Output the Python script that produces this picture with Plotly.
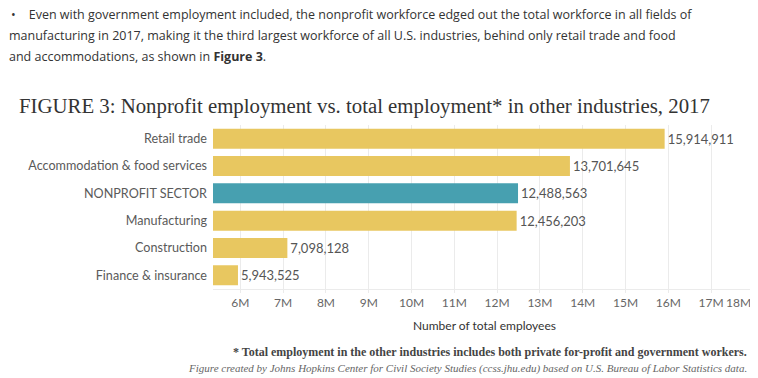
import plotly.graph_objects as go

categories = ["Retail trade", "Accommodation & food services", "NONPROFIT SECTOR",
              "Manufacturing", "Construction", "Finance & insurance"]
employees = [15914911, 13701645, 12488563, 12456203, 7098128, 5943525]
tick_values = [6e6, 7e6, 8e6, 9e6, 10e6, 11e6, 12e6, 13e6, 14e6, 15e6, 16e6, 17e6, 18e6]
tick_labels = ["6M", "7M", "8M", "9M", "10M", "11M", "12M", "13M", "14M", "15M", "16M", "17M", "18M"]

GOLD = "#E8C760"
TEAL = "#47A0B0"
colors = [TEAL if c == "NONPROFIT SECTOR" else GOLD for c in categories]

# the page body adds an 8px offset; all layout pixel positions below are compensated
OFF = 8
W, H = 758, 378
PL, PR, PT, PB = 213 - OFF, 756 - OFF, 125 - OFF, 289 - OFF  # plot area in figure px

# last tick label is nudged left so it stays inside the frame (as in the original)
shown_ticktext = tick_labels[:-1] + [tick_labels[-1] + "\u00a0" * 10]

fig = go.Figure(go.Bar(
    x=employees, y=categories, orientation="h",
    marker=dict(color=colors, line=dict(width=0)),
    text=[f"{v:,}" for v in employees], textposition="outside",
    textfont=dict(family="Lato", size=13, color="#555555"),
    cliponaxis=False, width=0.73,
))

fig.update_layout(
    width=W, height=H,
    margin=dict(l=PL, r=W - PR, t=PT, b=H - PB, autoexpand=False),
    paper_bgcolor="white", plot_bgcolor="white",
    showlegend=False,
    xaxis=dict(range=[5.36e6, 18.05e6], tickvals=tick_values, ticktext=shown_ticktext,
               automargin=False, ticklabeloverflow="allow", tickangle=0,
               showgrid=True, gridcolor="#EBEBEB", gridwidth=1, zeroline=False,
               showline=True, linecolor="#EBEBEB", linewidth=1,
               ticks="outside", ticklen=3, tickcolor="#EBEBEB",
               tickfont=dict(family="Lato", size=12, color="#666666"),
               title=dict(text="Number of total employees", standoff=12,
                          font=dict(family="Lato", size=12, color="#333333"))),
    yaxis=dict(autorange="reversed", showgrid=False, zeroline=False, automargin=False,
               ticks="", ticklabelstandoff=5,
               tickfont=dict(family="Lato", size=12.6, color="#5a5a5a")),
    font=dict(family="Lato"),
)

def py(ypix):
    return (PB - (ypix - OFF)) / (PB - PT)

def px(xpix):
    return ((xpix - OFF) - PL) / (PR - PL)

para = ["•&nbsp;&nbsp;&nbsp;&nbsp;Even with government employment included, the nonprofit workforce edged out the total workforce in all fields of",
        "manufacturing in 2017, making it the third largest workforce of all U.S. industries, behind only retail trade and food",
        "and accommodations, as shown in <b>Figure 3</b>."]
para_y = [14.5, 35, 56]
para_x = [9, 7, 7]
for t, yy, xx in zip(para, para_y, para_x):
    fig.add_annotation(text=t, xref="paper", yref="paper", x=px(xx),
                       y=py(yy), xanchor="left", yanchor="middle",
                       showarrow=False, font=dict(family="Open Sans", size=12.5, color="#333333"))

fig.add_annotation(text="FIGURE 3: Nonprofit employment vs. total employment* in other industries, 2017",
                   xref="paper", yref="paper", x=px(17), y=py(106), xanchor="left", yanchor="middle",
                   showarrow=False, font=dict(family="Liberation Serif", size=20.8, color="#333333"))
fig.add_annotation(text="<b>* Total employment in the other industries includes both private for-profit and government workers.</b>",
                   xref="paper", yref="paper", x=px(749), y=py(352), xanchor="right", yanchor="middle",
                   showarrow=False, font=dict(family="Liberation Serif", size=12, color="#444444"))
fig.add_annotation(text="<i>Figure created by Johns Hopkins Center for Civil Society Studies (ccss.jhu.edu) based on U.S. Bureau of Labor Statistics data.</i>",
                   xref="paper", yref="paper", x=px(749), y=py(368), xanchor="right", yanchor="middle",
                   showarrow=False, font=dict(family="Liberation Serif", size=11, color="#666666"))

fig.write_html("out.html")
